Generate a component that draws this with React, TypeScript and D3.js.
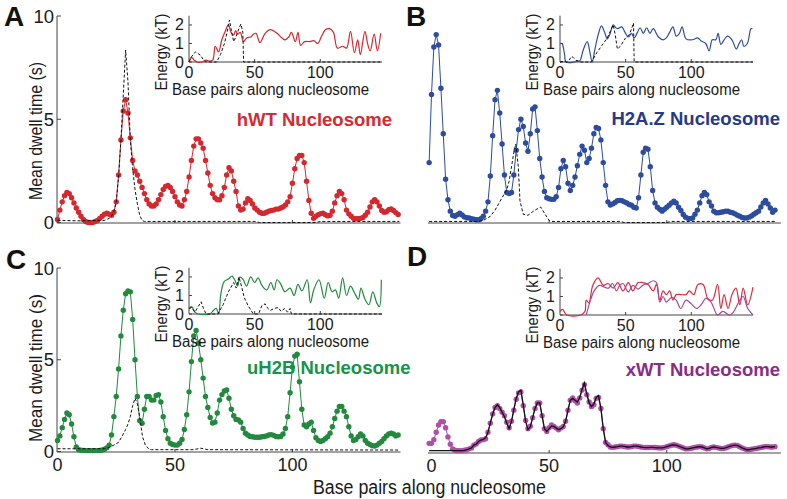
import * as d3 from "d3";

const FONT = "'Liberation Sans', Arial, Helvetica, sans-serif";

type Pt = [number, number];

// ---- mean dwell time per base pair (main panels) ----
const hwtStart = 0;
const hwtDwell = [
  0.15, 0.6, 1.0, 1.3, 1.45, 1.4, 1.2, 0.95, 0.7, 0.5,
  0.3, 0.15, 0.05, 0, 0, 0, 0.05, 0.1, 0.2, 0.3,
  0.4, 0.45, 0.4, 0.35, 0.5, 1.0, 2.3, 4.0, 5.4, 5.95,
  5.3, 4.1, 3.0, 2.5, 2.3, 2.0, 1.7, 1.4, 1.1, 0.9,
  0.8, 0.8, 0.9, 1.1, 1.35, 1.6, 1.75, 1.8, 1.7, 1.5,
  1.25, 1.0, 0.85, 0.8, 1.1, 1.5, 2.2, 3.0, 3.7, 4.05,
  4.05, 3.85, 3.6, 3.0, 2.4, 1.8, 1.4, 1.2, 1.1, 1.1,
  1.3, 1.7, 2.3, 2.65, 2.5, 2.0, 1.5, 0.8, 0.6, 0.65,
  0.95, 1.15, 1.07, 0.9, 0.7, 0.6, 0.5, 0.45, 0.45, 0.5,
  0.55, 0.58, 0.6, 0.65, 0.65, 0.7, 0.75, 0.85, 1.0, 1.25,
  1.9, 2.6, 3.1, 3.25, 3.25, 2.9, 2.0, 1.07, 0.45, 0.2,
  0.3, 0.38, 0.43, 0.45, 0.38, 0.32, 0.35, 0.55, 0.95, 1.3,
  1.5, 1.4, 1.1, 0.6, 0.42, 0.3, 0.2, 0.18, 0.18, 0.2,
  0.24, 0.35, 0.5, 0.75, 1.0, 1.1, 1.0, 0.8, 0.58, 0.5,
  0.52, 0.62, 0.66, 0.58, 0.48, 0.39,
];
const hwtModel: Pt[] = [
  [0, 0.1], [10, 0.08], [20, 0.1], [22, 0.2], [23, 0.3], [24, 0.55], [25, 1.0],
  [26, 2.2], [27, 4.0], [28, 6.2], [29, 8.35], [30, 6.8], [31, 4.0], [32, 2.6],
  [33, 1.6], [34, 0.9], [35, 0.35], [36, 0.1], [37, 0.05], [84, 0.05], [86, 0],
  [110, 0], [112, 0.05], [145.5, 0.05],
];

const h2azStart = -1;
const h2azDwell = [
  2.9, 6.2, 8.5, 9.1, 8.6, 6.5, 4.3, 2.1, 1.1, 0.55,
  0.34, 0.3, 0.38, 0.45, 0.36, 0.27, 0.23, 0.22, 0.19, 0.16,
  0.13, 0.13, 0.18, 0.3, 0.55, 1.0, 2.25, 4.2, 5.95, 6.4,
  5.3, 3.8, 2.3, 1.45, 1.4, 1.45, 2.3, 3.5, 4.5, 5.0,
  4.65, 3.85, 3.45, 4.3, 5.5, 5.6, 4.45, 3.1, 2.2, 1.5,
  1.2, 1.15, 1.12, 1.12, 1.25, 1.7, 2.6, 3.0, 2.7, 1.9,
  1.55, 1.8, 2.2, 2.75, 3.3, 3.7, 3.5, 2.9, 3.1, 3.6,
  4.3, 4.6, 4.55, 4.0, 2.9, 1.8, 1.0, 0.85, 0.9, 0.97,
  1.05, 1.07, 1.05, 1.0, 0.95, 0.87, 0.84, 0.74, 0.7, 1.2,
  2.3, 3.4, 3.6, 3.55, 2.7, 1.55, 0.95, 0.74, 0.64, 0.55,
  0.64, 0.74, 0.84, 0.95, 1.03, 0.95, 0.74, 0.58, 0.39, 0.26,
  0.2, 0.19, 0.22, 0.4, 0.6, 0.95, 1.3, 1.45, 1.35, 1.0,
  0.8, 0.55, 0.47, 0.47, 0.5, 0.52, 0.55, 0.55, 0.5, 0.47,
  0.42, 0.35, 0.3, 0.24, 0.22, 0.22, 0.26, 0.32, 0.4, 0.47,
  0.55, 0.75, 0.95, 1.07, 0.9, 0.7, 0.5, 0.6,
];
const h2azModel: Pt[] = [
  [-1, 0.05], [20, 0.05], [22, 0.1], [25, 0.3], [27, 0.6], [29, 1.0], [31, 1.4],
  [32, 1.6], [33, 2.0], [34, 2.7], [35, 3.4], [35.8, 3.8], [36.9, 2.7], [37.6, 1.05],
  [39, 0.4], [41, 0.35], [44, 0.6], [46.4, 0.75], [48, 0.45], [50, 0.1], [51, 0.05],
  [80, 0.05], [82, 0], [100, 0], [102, 0.05], [146.5, 0.05],
];

const uh2bStart = 0;
const uh2bDwell = [
  0.6, 0.85, 1.3, 1.75, 2.1, 2.0, 1.5, 0.8, 0.25, 0.1,
  0.07, 0.06, 0.05, 0.05, 0.05, 0.05, 0.05, 0.05, 0.06, 0.08,
  0.12, 0.2, 0.35, 0.9, 1.9, 3.0, 4.5, 6.3, 7.7, 8.6,
  8.75, 8.7, 7.2, 5.0, 3.0, 1.68, 1.54, 2.3, 3.0, 3.0,
  2.8, 2.8, 3.05, 3.1, 2.7, 1.9, 1.15, 0.7, 0.45, 0.38,
  0.35, 0.35, 0.45, 0.65, 1.2, 2.0, 3.25, 4.9, 6.3, 6.6,
  5.9, 5.0, 4.0, 3.0, 2.4, 1.85, 1.55, 1.6, 2.1, 2.8,
  3.1, 3.3, 3.35, 2.9, 2.3, 1.95, 1.75, 1.72, 1.6, 1.25,
  1.0, 0.9, 0.82, 0.8, 0.78, 0.78, 0.78, 0.8, 0.82, 0.85,
  0.9, 0.92, 0.88, 0.82, 0.8, 0.82, 0.95, 1.25, 1.9, 3.2,
  4.6, 5.2, 5.3, 3.8, 2.3, 1.45, 1.35, 1.5, 1.6, 1.15,
  0.75, 0.6, 0.55, 0.6, 0.7, 0.8, 1.0, 1.35, 1.8, 2.2,
  2.45, 2.45, 2.2, 1.9, 1.35, 0.85, 0.6, 0.65, 0.8, 0.95,
  0.85, 0.6, 0.45, 0.38, 0.32, 0.3, 0.35, 0.45, 0.55, 0.7,
  0.85, 0.95, 1.0, 0.95, 0.85, 0.9,
];
const uh2bModel: Pt[] = [
  [0, 0.15], [20, 0.15], [21.5, 0.2], [24, 0.35], [26, 0.5], [28, 0.95], [29, 1.2],
  [30, 1.5], [31, 1.9], [32, 2.5], [33, 2.9], [34, 2.6], [35, 1.9], [36.2, 0.8],
  [37.4, 0.35], [39, 0.12], [40, 0.1], [58, 0.1], [61, 0.18], [64, 0.1], [145.5, 0.08],
];

const xwtStart = -1;
const xwtDwell = [
  0.5, 0.5, 0.7, 1.1, 1.5, 1.68, 1.68, 1.35, 0.85, 0.45,
  0.2, 0.12, 0.1, 0.1, 0.1, 0.12, 0.15, 0.2, 0.25, 0.4,
  0.47, 0.6, 0.68, 0.7, 0.75, 1.1, 1.6, 2.1, 2.45, 2.55,
  2.4, 2.2, 2.0, 1.65, 1.35, 1.7, 2.3, 2.9, 3.25, 3.3,
  2.55, 1.75, 1.3, 1.43, 1.9, 2.4, 2.7, 2.7, 2.0, 1.3,
  1.15, 1.35, 1.5, 1.42, 1.33, 1.24, 1.33, 1.42, 1.7, 2.3,
  2.85, 2.97, 2.82, 2.7, 2.97, 3.4, 3.7, 3.15, 2.75, 2.5,
  2.6, 2.95, 3.0, 2.4, 1.3, 0.55, 0.42, 0.3, 0.28, 0.3,
  0.32, 0.35, 0.35, 0.33, 0.3, 0.3, 0.32, 0.35, 0.35, 0.33,
  0.3, 0.28, 0.27, 0.27, 0.28, 0.28, 0.27, 0.26, 0.25, 0.25,
  0.28, 0.32, 0.36, 0.4, 0.42, 0.4, 0.35, 0.3, 0.25, 0.2,
  0.2, 0.22, 0.25, 0.28, 0.3, 0.32, 0.3, 0.25, 0.2, 0.22,
  0.28, 0.3, 0.28, 0.25, 0.22, 0.22, 0.25, 0.3, 0.35, 0.38,
  0.4, 0.38, 0.32, 0.25, 0.2, 0.15, 0.15, 0.18, 0.2, 0.22,
  0.25, 0.27, 0.3, 0.32, 0.32, 0.3, 0.3, 0.32,
];
const xwtFit = [
  0.1, 0.1, 0.1, 0.1, 0.1, 0.1, 0.1, 0.1, 0.1, 0.1,
  0.1, 0.1, 0.1, 0.1, 0.1, 0.12, 0.15, 0.2, 0.25, 0.4,
  0.45, 0.6, 0.68, 0.72, 0.8, 1.1, 1.6, 2.1, 2.45, 2.6,
  2.45, 2.2, 1.95, 1.6, 1.3, 1.7, 2.35, 2.95, 3.3, 3.4,
  2.6, 1.7, 1.25, 1.4, 1.9, 2.4, 2.7, 2.7, 2.0, 1.3,
  1.15, 1.3, 1.45, 1.42, 1.33, 1.25, 1.3, 1.4, 1.7, 2.3,
  2.85, 2.95, 2.85, 2.75, 3.0, 3.45, 3.8, 3.2, 2.7, 2.5,
  2.65, 3.0, 3.1, 2.4, 1.3, 0.55, 0.38, 0.3, 0.28, 0.3,
  0.32, 0.35, 0.35, 0.33, 0.3, 0.3, 0.32, 0.35, 0.35, 0.33,
  0.3, 0.28, 0.27, 0.27, 0.28, 0.28, 0.27, 0.26, 0.25, 0.25,
  0.28, 0.32, 0.36, 0.4, 0.42, 0.4, 0.35, 0.3, 0.25, 0.2,
  0.2, 0.22, 0.25, 0.28, 0.3, 0.32, 0.3, 0.25, 0.2, 0.22,
  0.28, 0.3, 0.28, 0.25, 0.22, 0.22, 0.25, 0.3, 0.35, 0.38,
  0.4, 0.38, 0.32, 0.25, 0.2, 0.15, 0.15, 0.18, 0.2, 0.22,
  0.25, 0.27, 0.3, 0.32, 0.32, 0.3, 0.3, 0.32,
];

// ---- energy landscapes (insets), [bp, kT] ----
const hwtEnergy: Pt[] = [
  [0, 0], [2, 0.25], [4, 0.1], [6, 0], [10, 0], [13, 0.1], [15, 0.05], [18, 0.1], [20, 0.85],
  [22.5, 0.55], [25, 1.2], [27, 1.55], [30, 2.0], [32, 1.6], [34, 1.45], [35.5, 1.7], [37, 1.5],
  [39, 1.6], [41.5, 1.1], [44, 1.3], [47, 1.35], [49, 1.5], [51, 1.55], [54, 1.05], [58, 1.55],
  [62, 1.75], [67, 1.55], [70, 1.35], [73, 1.2], [76, 1.35], [78, 1.6], [81, 1.1], [83, 1.6],
  [85, 0.9], [88, 1.1], [92, 1.1], [95, 1.15], [98, 1.0], [101, 1.4], [104, 1.75], [107, 1.8],
  [110, 1.6], [113, 0.75], [117, 0.85], [120, 0.75], [123, 1.65], [126, 0.5], [128.5, 1.2],
  [130.5, 0.4], [134, 1.65], [136, 1.0], [138, 0.6], [141, 1.5], [143.5, 0.6], [146, 1.55],
];
const hwtEnergyModel: Pt[] = [
  [0, 0], [2, 0.3], [5, 0.55], [7, 0.45], [9, 0.35], [11, 0.1], [13, 0], [21, 0], [24, 0.4],
  [27, 1.0], [29, 1.6], [30.8, 2.27], [32, 1.8], [34, 1.1], [36, 1.4], [38, 1.8], [39.5, 2.05],
  [41, 1.6], [41.6, 0], [147, 0],
];
const h2azEnergy: Pt[] = [
  [0, 1.0], [1.5, 1.0], [3.5, 0.4], [4.5, 0], [11, 0], [13, 0.05], [15, 0.05], [17.7, 0.65],
  [20.7, 1.1], [22.7, 0.55], [24.5, 0], [26.5, 0.65], [29, 1.45], [31.6, 1.95], [34, 1.6],
  [36, 1.25], [38, 1.5], [40.5, 2.0], [42.5, 1.85], [44, 1.8], [47, 1.9], [49.5, 1.6], [52, 1.35],
  [54.5, 1.55], [56.5, 1.3], [59, 1.6], [61, 1.85], [63.5, 1.55], [66, 1.85], [68.5, 1.55],
  [71, 1.8], [75, 1.35], [78.5, 1.2], [81, 1.3], [83.5, 1.6], [86, 1.9], [88.5, 1.4], [91, 1.55],
  [93, 1.9], [96, 1.25], [101, 1.2], [104.8, 1.3], [107.3, 1.15], [111, 1.0], [113.6, 0.6],
  [116, 1.2], [118.7, 1.2], [120.4, 1.55], [122.5, 0.95], [125, 1.2], [127.5, 1.4], [131, 1.2],
  [134.3, 0.7], [136.4, 1.0], [138.4, 1.2], [140, 0.85], [142.7, 1.0], [145.4, 1.8], [146.5, 1.8],
];
const h2azEnergyModel: Pt[] = [
  [0, 0], [3, 0.05], [5, 0], [7, 0.1], [8.8, 0.3], [10, 0.25], [12, 0.1], [14, 0.05], [16, 0],
  [24, 0], [28, 0.5], [32, 0.9], [36, 1.3], [40.5, 2.0], [42, 1.5], [43.7, 0.7], [46, 0.85],
  [49.5, 1.25], [53, 1.5], [56, 2.1], [56.5, 0], [147, 0],
];
const uh2bEnergy: Pt[] = [
  [0, 0.3], [2, 0.4], [4.5, 0.1], [7, 0], [16, 0], [18.7, 0.2], [20.8, 0.3], [22.6, 0],
  [24.3, 1.1], [26.8, 1.75], [30.2, 1.9], [32.8, 2.05], [35.4, 1.75], [37.1, 1.5], [38.7, 2.0],
  [41.3, 1.85], [43.8, 1.5], [47, 2.0], [50, 1.7], [52.6, 1.95], [55.9, 1.5], [59.3, 1.3],
  [62.3, 1.7], [64.9, 1.3], [67, 1.85], [70, 1.6], [73, 1.2], [77, 1.4], [80, 1.0], [83, 1.6],
  [86, 1.25], [90, 1.85], [92.5, 0.6], [95, 1.3], [99, 1.85], [103, 0.85], [106, 1.7],
  [109, 1.2], [111.5, 1.3], [114, 0.85], [117, 1.95], [120, 1.0], [123, 1.5], [126, 1.15],
  [129, 0.8], [131, 1.4], [134, 0.8], [137, 0.5], [140, 1.2], [143, 0.6], [145, 0.4], [146.5, 1.85],
];
const uh2bEnergyModel: Pt[] = [
  [0, 0.3], [2, 0.35], [4.5, 0.1], [7, 0.4], [9.2, 0.66], [11, 0.3], [13, 0], [22, 0], [26, 0.5],
  [30, 1.2], [34, 1.7], [36, 1.4], [38, 2.0], [40, 1.5], [42, 0.9], [45, 0.45], [49, 0], [53, 0],
  [55.5, 0.45], [58, 0.55], [60, 0.3], [62, 0.2], [65, 0.3], [68, 0.35], [70, 0.15], [73, 0.3],
  [75, 0.1], [77, 0.3], [78, 0], [147, 0],
];
const xwtEnergyRed: Pt[] = [
  [0, 0.2], [2, 0.3], [5, 0], [16, 0], [19, 0.2], [20, 0.8], [22, 0.65], [25, 1.6], [29, 2.0],
  [33, 1.6], [36.5, 1.7], [40.5, 1.45], [44, 1.75], [48, 1.3], [52, 1.75], [55.5, 1.3],
  [59.5, 1.75], [63, 1.75], [67, 1.65], [71, 1.3], [73.5, 1.65], [76, 0.8], [78.5, 1.3],
  [81, 1.1], [83.5, 1.3], [86, 0.8], [88.5, 1.1], [92, 1.1], [96, 1.1], [98.5, 1.3], [102, 1.1],
  [105, 1.65], [109, 1.65], [112.5, 0.9], [116, 0.8], [120, 1.65], [122.5, 0.35], [125, 1.1],
  [128, 0.35], [131, 1.1], [134, 1.45], [137, 0.55], [139.5, 1.45], [143, 0.55], [147, 1.5],
];
const xwtEnergyPurple: Pt[] = [
  [20, 0], [23, 0.75], [26, 1.3], [30, 1.6], [34, 1.5], [37, 1.45], [40, 1.7], [43, 1.3],
  [45.5, 1.6], [48, 1.7], [52, 1.25], [55.5, 1.6], [59.5, 1.4], [63, 1.6], [67, 1.7], [71, 1.85],
  [73.5, 1.75], [76, 0.7], [78.5, 1.0], [81, 0.7], [85, 0.95], [88.5, 0.8], [92, 0.35], [96, 0.8],
  [100, 0.6], [104, 0.35], [108, 0.6], [111, 0.9], [115, 0.7], [120, 0], [124, 0.2], [129, 0],
  [131.5, 0.1], [137, 0.8], [139.5, 1.0], [143, 0.35], [147, 0],
];

const mainTicksX = [0, 50, 100];
const mainTicksY = [0, 5, 10];
const insetTicksX = [0, 50, 100];
const insetTicksY = [0, 1, 2];

const RED = "#d4282f";
const BLUE = "#2d4c9d";
const GREEN = "#23893f";
const PURPLE = "#b04fa8";
const AXIS = "#444";
const INK = "#1a1a1a";

type PanelProps = {
  xRange: [number, number];
  yRange: [number, number];
  axisFrom: number;
  axisTo: number;
  dwell: number[];
  start: number;
  color: string;
  model?: Pt[];
  fit?: number[];
  yAxis?: boolean;
  xLabels?: boolean;
};

function Panel(p: PanelProps) {
  const x = d3.scaleLinear().domain([0, 146]).range(p.xRange);
  const y = d3.scaleLinear().domain([0, 10]).range(p.yRange);
  const line = d3.line<Pt>().x((d) => x(d[0])).y((d) => y(d[1]));
  const pts: Pt[] = p.dwell.map((v, i) => [p.start + i, v]);
  const base = y(0) + 0.5;
  const left = x(p.axisFrom);
  return (
    <g>
      <line x1={left} x2={x(p.axisTo)} y1={base} y2={base} stroke={AXIS} strokeWidth={1} />
      {mainTicksX.slice(1).map((t) => (
        <line key={t} x1={x(t)} x2={x(t)} y1={base} y2={base - 3} stroke={AXIS} />
      ))}
      {p.xLabels &&
        mainTicksX.map((t) => (
          <text key={t} x={x(t)} y={base + 18.5} textAnchor="middle" fontSize={18} fill={INK}>
            {t}
          </text>
        ))}
      {p.yAxis && (
        <g>
          <line x1={left} x2={left} y1={y(10)} y2={base} stroke={AXIS} />
          {mainTicksY.map((t) => (
            <g key={t}>
              <line x1={left} x2={left + 4} y1={y(t)} y2={y(t)} stroke={AXIS} />
              <text x={left - 3} y={y(t) + 6.5} textAnchor="end" fontSize={18.5} fill={INK}>
                {t}
              </text>
            </g>
          ))}
        </g>
      )}
      <path d={line(pts) || ""} fill="none" stroke={p.color} strokeWidth={1} />
      {pts.map((d, i) => (
        <circle key={i} cx={x(d[0])} cy={y(d[1])} r={2.7} fill={p.color} />
      ))}
      {p.model && (
        <path d={line(p.model) || ""} fill="none" stroke="#111" strokeWidth={1} strokeDasharray="3 2" />
      )}
      {p.fit && (
        <path
          d={line(p.fit.map((v, i) => [p.start + i, v] as Pt)) || ""}
          fill="none"
          stroke="#111"
          strokeWidth={1.3}
        />
      )}
    </g>
  );
}

type InsetProps = {
  x0: number;
  y0: number;
  series: { pts: Pt[]; color: string; dashed?: boolean }[];
};

function Inset({ x0, y0, series }: InsetProps) {
  const x = d3.scaleLinear().domain([0, 147]).range([x0, x0 + 193]);
  const y = d3.scaleLinear().domain([0, 2.5]).range([y0, y0 - 46.3]);
  const line = d3.line<Pt>().x((d) => x(d[0])).y((d) => y(d[1]));
  const smooth = d3.line<Pt>().x((d) => x(d[0])).y((d) => y(d[1])).curve(d3.curveCatmullRom.alpha(0.5));
  return (
    <g>
      <line x1={x0} x2={x(147)} y1={y0} y2={y0} stroke={AXIS} />
      <line x1={x0} x2={x0} y1={y0} y2={y(2.5)} stroke={AXIS} />
      {insetTicksX.slice(1).map((t) => (
        <line key={t} x1={x(t)} x2={x(t)} y1={y0} y2={y0 - 3} stroke={AXIS} />
      ))}
      {insetTicksY.map((t) => (
        <g key={t}>
          <line x1={x0} x2={x0 + 3} y1={y(t)} y2={y(t)} stroke={AXIS} />
          <text x={x0 - 5} y={y(t) + 5.5} textAnchor="end" fontSize={16} fill={INK}>
            {t}
          </text>
        </g>
      ))}
      {insetTicksX.map((t) => (
        <text key={t} x={x(t)} y={y0 + 16} textAnchor="middle" fontSize={16} fill={INK}>
          {t}
        </text>
      ))}
      <text x={x0 - 17} y={y0 + 33} fontSize={16} textLength={197} lengthAdjust="spacingAndGlyphs" fill={INK}>
        Base pairs along nucleosome
      </text>
      <text
        transform={`translate(${x0 - 22},${y0 - 10}) rotate(-90)`}
        textAnchor="middle"
        fontSize={16}
        textLength={77}
        lengthAdjust="spacingAndGlyphs"
        fill={INK}
      >
        Energy (kT)
      </text>
      {series.map((s, i) => (
        <path
          key={i}
          d={(s.dashed ? line(s.pts) : smooth(s.pts)) || ""}
          fill="none"
          stroke={s.color}
          strokeWidth={s.dashed ? 1 : 1.2}
          strokeDasharray={s.dashed ? "3 2" : undefined}
        />
      ))}
    </g>
  );
}

export default function App() {
  return (
    <svg
      width={787}
      height={499}
      style={{ position: "absolute", left: 0, top: 0, background: "#fff", fontFamily: FONT }}
    >
      {/* A */}
      <Panel
        xRange={[57.5, 400.5]}
        yRange={[222.5, 16]}
        axisFrom={-0.2}
        axisTo={146}
        dwell={hwtDwell}
        start={hwtStart}
        color={RED}
        model={hwtModel}
        yAxis
      />
      {/* B */}
      <Panel
        xRange={[431.5, 775]}
        yRange={[222.5, 16]}
        axisFrom={-1.5}
        axisTo={148.5}
        dwell={h2azDwell}
        start={h2azStart}
        color={BLUE}
        model={h2azModel}
      />
      {/* C */}
      <Panel
        xRange={[57.5, 400.5]}
        yRange={[451.5, 268]}
        axisFrom={-0.2}
        axisTo={146}
        dwell={uh2bDwell}
        start={uh2bStart}
        color={GREEN}
        model={uh2bModel}
        yAxis
        xLabels
      />
      {/* D */}
      <Panel
        xRange={[431.5, 775]}
        yRange={[452.5, 269]}
        axisFrom={-1.5}
        axisTo={148.5}
        dwell={xwtDwell}
        start={xwtStart}
        color={PURPLE}
        fit={xwtFit}
        xLabels
      />

      <Inset
        x0={189}
        y0={62}
        series={[
          { pts: hwtEnergy, color: RED },
          { pts: hwtEnergyModel, color: "#111", dashed: true },
        ]}
      />
      <Inset
        x0={560}
        y0={62}
        series={[
          { pts: h2azEnergy, color: BLUE },
          { pts: h2azEnergyModel, color: "#111", dashed: true },
        ]}
      />
      <Inset
        x0={189}
        y0={314}
        series={[
          { pts: uh2bEnergy, color: GREEN },
          { pts: uh2bEnergyModel, color: "#111", dashed: true },
        ]}
      />
      <Inset
        x0={560}
        y0={315}
        series={[
          { pts: xwtEnergyRed, color: "#dc2a3c" },
          { pts: xwtEnergyPurple, color: "#a54a9c" },
        ]}
      />

      {/* titles */}
      <text x={392} y={126} textAnchor="end" fontSize={18.5} fontWeight="bold" fill="#d42a32">
        hWT Nucleosome
      </text>
      <text x={780} y={125} textAnchor="end" fontSize={18.5} fontWeight="bold" fill="#28398a">
        H2A.Z Nucleosome
      </text>
      <text x={247} y={374} fontSize={18.5} fontWeight="bold" fill="#17944a">
        uH2B Nucleosome
      </text>
      <text x={780} y={376} textAnchor="end" fontSize={18.5} fontWeight="bold" fill="#8a2c86">
        xWT Nucleosome
      </text>

      {/* panel letters */}
      <text x={4} y={26} fontSize={28} fontWeight="bold" fill="#111">A</text>
      <text x={406} y={26} fontSize={28} fontWeight="bold" fill="#111">B</text>
      <text x={6} y={269} fontSize={28} fontWeight="bold" fill="#111">C</text>
      <text x={407} y={266} fontSize={28} fontWeight="bold" fill="#111">D</text>

      {/* axis titles */}
      <text
        transform="translate(42,131) rotate(-90)"
        textAnchor="middle"
        fontSize={18.5}
        textLength={138}
        lengthAdjust="spacingAndGlyphs"
        fill={INK}
      >
        Mean dwell time (s)
      </text>
      <text
        transform="translate(42,368) rotate(-90)"
        textAnchor="middle"
        fontSize={18.5}
        textLength={148}
        lengthAdjust="spacingAndGlyphs"
        fill={INK}
      >
        Mean dwell time (s)
      </text>
      <text x={313} y={494} fontSize={19.5} textLength={233} lengthAdjust="spacingAndGlyphs" fill={INK}>
        Base pairs along nucleosome
      </text>
    </svg>
  );
}
